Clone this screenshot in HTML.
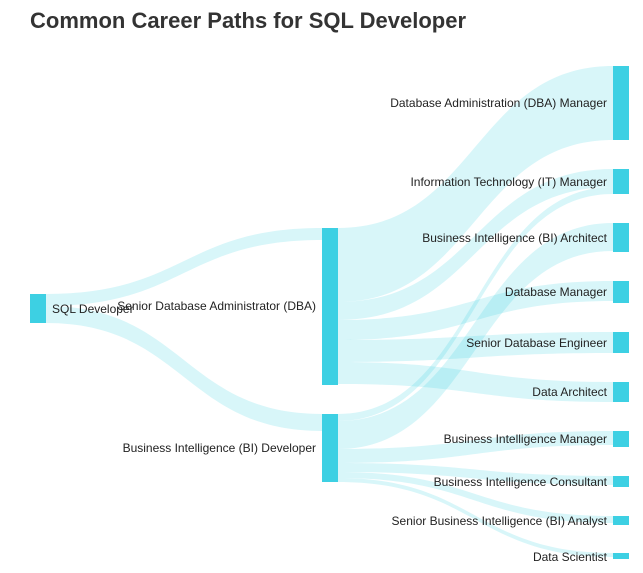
<!DOCTYPE html>
<html><head><style>
body{margin:0;background:#fff;width:643px;height:573px;overflow:hidden;font-family:"Liberation Sans",sans-serif}
h1{position:absolute;left:30px;top:8px;margin:0;font-size:22px;font-weight:bold;color:#333}
svg text{font-family:"Liberation Sans",sans-serif;font-size:12px;fill:#222}
</style></head><body>
<h1>Common Career Paths for SQL Developer</h1>
<svg width="643" height="573" style="position:absolute;left:0;top:0">
<g fill="#3dd0e3" fill-opacity="0.2">
<path d="M46 294C184 294 184 228 322 228L322 240C184 240 184 306 46 306Z"/>
<path d="M46 306C184 306 184 414 322 414L322 431C184 431 184 323 46 323Z"/>
<path d="M338 228C475 228 475 66 613 66L613 140C475 140 475 302 338 302Z"/>
<path d="M338 302C475 302 475 169 613 169L613 187C475 187 475 320 338 320Z"/>
<path d="M338 320C475 320 475 281 613 281L613 301C475 301 475 340 338 340Z"/>
<path d="M338 340C475 340 475 332 613 332L613 353C475 353 475 362 338 362Z"/>
<path d="M338 362C475 362 475 382 613 382L613 402C475 402 475 384 338 384Z"/>
<path d="M338 414C475 414 475 187 613 187L613 194C475 194 475 421 338 421Z"/>
<path d="M338 421C475 421 475 223 613 223L613 251C475 251 475 449 338 449Z"/>
<path d="M338 449C475 449 475 431 613 431L613 445C475 445 475 463 338 463Z"/>
<path d="M338 463C475 463 475 476 613 476L613 485C475 485 475 472 338 472Z"/>
<path d="M338 472C475 472 475 516 613 516L613 523C475 523 475 478 338 478Z"/>
<path d="M338 478C475 478 475 553 613 553L613 557C475 557 475 482 338 482Z"/>
</g>
<g fill="#3dd0e3">
<rect x="30" y="294" width="16" height="29"/>
<rect x="322" y="228" width="16" height="157"/>
<rect x="322" y="414" width="16" height="68"/>
<rect x="613" y="66" width="16" height="74"/>
<rect x="613" y="169" width="16" height="25"/>
<rect x="613" y="223" width="16" height="29"/>
<rect x="613" y="281" width="16" height="22"/>
<rect x="613" y="332" width="16" height="21"/>
<rect x="613" y="382" width="16" height="20"/>
<rect x="613" y="431" width="16" height="16"/>
<rect x="613" y="476" width="16" height="11"/>
<rect x="613" y="516" width="16" height="9"/>
<rect x="613" y="553" width="16" height="6"/>
</g>
<text x="52" y="313">SQL Developer</text>
<g text-anchor="end">
<text x="316" y="310">Senior Database Administrator (DBA)</text>
<text x="316" y="452">Business Intelligence (BI) Developer</text>
<text x="607" y="107">Database Administration (DBA) Manager</text>
<text x="607" y="186">Information Technology (IT) Manager</text>
<text x="607" y="242">Business Intelligence (BI) Architect</text>
<text x="607" y="296">Database Manager</text>
<text x="607" y="347">Senior Database Engineer</text>
<text x="607" y="396">Data Architect</text>
<text x="607" y="443">Business Intelligence Manager</text>
<text x="607" y="486">Business Intelligence Consultant</text>
<text x="607" y="525">Senior Business Intelligence (BI) Analyst</text>
<text x="607" y="561">Data Scientist</text>
</g>
</svg>
</body></html>
